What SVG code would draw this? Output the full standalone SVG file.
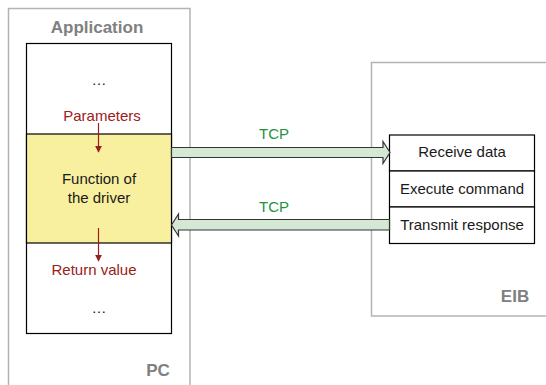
<svg xmlns="http://www.w3.org/2000/svg" width="546" height="385" viewBox="0 0 546 385">
  <defs>
    <style>
      .frame { fill: #ffffff; stroke: #b3b3b3; stroke-width: 1.5; }
      .frame-label { font-family: "Liberation Sans", Arial, sans-serif; font-size: 17px; font-weight: bold; fill: #808080; }
      .cell { fill: #ffffff; stroke: #000000; stroke-width: 1.2; }
      .driver { fill: #f8f09e; stroke: #000000; stroke-width: 1.2; }
      .txt { font-family: "Liberation Sans", Arial, sans-serif; font-size: 15px; fill: #1a1a1a; text-anchor: middle; }
      .red { fill: #9a2020; }
      .green { fill: #239140; }
      .flow { stroke: #9a2020; stroke-width: 1.2; fill: none; marker-end: url(#redHead); }
      .pipe { fill: #d5e8d4; stroke: #333333; stroke-width: 1.2; stroke-linejoin: miter; }
    </style>
    <marker id="redHead" viewBox="0 0 10 10" refX="9" refY="5" markerWidth="7" markerHeight="8" markerUnits="userSpaceOnUse" orient="auto">
      <path d="M0,0 L10,5 L0,10 Z" fill="#9a2020"/>
    </marker>
  </defs>

  <!-- PC host frame -->
  <g id="pc">
    <rect class="frame" x="8.5" y="8.5" width="181.5" height="390"/>
    <text class="frame-label" x="97" y="32.5" text-anchor="middle">Application</text>
    <text class="frame-label" x="158" y="376" text-anchor="middle">PC</text>
  </g>

  <!-- Application call stack -->
  <g id="app-stack">
    <rect class="cell" x="26.5" y="43.5" width="145" height="290"/>
    <rect class="driver" x="26.5" y="134" width="145" height="109"/>
    <text class="txt" x="99" y="85">…</text>
    <text class="txt red" x="102" y="120.5">Parameters</text>
    <text class="txt" x="99" y="183.5">Function of</text>
    <text class="txt" x="99" y="202.5">the driver</text>
    <text class="txt red" x="94" y="274.5">Return value</text>
    <text class="txt" x="99" y="313">…</text>
  </g>

  <!-- EIB device frame -->
  <g id="eib">
    <rect class="frame" x="371.5" y="62.5" width="190" height="253.5"/>
    <text class="frame-label" x="515" y="302" text-anchor="middle">EIB</text>
  </g>

  <!-- EIB processing steps -->
  <g id="eib-steps">
    <rect class="cell" x="389.5" y="135" width="145" height="36"/>
    <rect class="cell" x="389.5" y="171" width="145" height="36"/>
    <rect class="cell" x="389.5" y="207" width="145" height="36.5"/>
    <text class="txt" x="462" y="157">Receive data</text>
    <text class="txt" x="462" y="193.5">Execute command</text>
    <text class="txt" x="462" y="229.5">Transmit response</text>
  </g>

  <!-- Connectors -->
  <g id="connectors">
    <line class="flow" x1="98.5" y1="123" x2="98.5" y2="152"/>
    <line class="flow" x1="98.5" y1="228" x2="98.5" y2="261"/>
    <path class="pipe" d="M171.5,147.5 H383 V141.5 L390,152.5 L383,163.5 V157.5 H171.5 Z"/>
    <path class="pipe" d="M389.5,219.5 H178.5 V214 L171.5,225 L178.5,236 V230 H389.5 Z"/>
    <text class="txt green" x="274" y="138.5">TCP</text>
    <text class="txt green" x="274" y="212">TCP</text>
  </g>
</svg>
